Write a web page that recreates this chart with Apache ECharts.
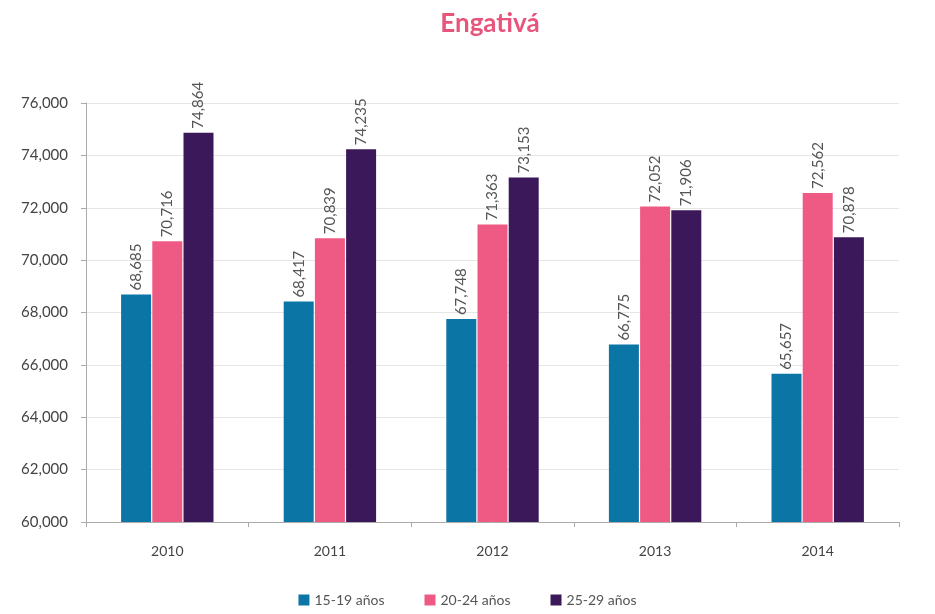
<!DOCTYPE html>
<html>
<head>
<meta charset="utf-8">
<script src="https://cdn.jsdelivr.net/npm/echarts@6/dist/echarts.min.js"></script>
<style>
  html, body { margin: 0; padding: 0; background: #fff; }
  #chart { width: 935px; height: 614px; }
</style>
</head>
<body>
<div id="chart"></div>
<script>
const years = ["2010", "2011", "2012", "2013", "2014"]
const age15_19 = [68685, 68417, 67748, 66775, 65657]
const age20_24 = [70716, 70839, 71363, 72052, 72562]
const age25_29 = [74864, 74235, 73153, 71906, 70878]

const chart = echarts.init(document.getElementById("chart"))

const fmt = p => p.value.toLocaleString("en-US")

const barLabel = {
  show: true,
  position: "top",
  rotate: 90,
  align: "left",
  verticalAlign: "middle",
  distance: 4,
  color: "#555",
  fontSize: 15,
  fontFamily: "Lato",
  formatter: fmt,
}

const option = {
  title: {
    text: "Engativá",
    left: 485,
    top: 6,
    textAlign: "center",
    textStyle: { color: "#e8557c", fontSize: 26, fontWeight: "bold", fontFamily: "Lato" },
  },
  textStyle: { fontFamily: "Lato" },
  legend: {
    bottom: 2,
    left: "center",
    itemWidth: 11,
    itemHeight: 11,
    itemGap: 40,
    icon: "rect",
    textStyle: { color: "#555", fontSize: 14 },
  },
  grid: { left: 86, right: 36, top: 103, bottom: 92 },
  xAxis: {
    type: "category",
    data: years,
    axisLine: { lineStyle: { color: "#aaa" } },
    axisTick: { show: true, alignWithLabel: false, length: 5, lineStyle: { color: "#aaa" } },
    axisLabel: { color: "#444", fontSize: 14, margin: 22 },
  },
  yAxis: {
    type: "value",
    min: 60000,
    max: 76000,
    interval: 2000,
    axisLine: { show: true, lineStyle: { color: "#aaa" } },
    axisTick: { show: true, length: 5, lineStyle: { color: "#aaa" } },
    axisLabel: {
      color: "#444",
      fontSize: 15,
      margin: 18,
      formatter: v => v.toLocaleString("en-US"),
    },
    splitLine: { lineStyle: { color: "#e6e6e6" } },
  },
  series: [
    {
      name: "15-19 años",
      type: "bar",
      data: age15_19,
      barWidth: 30,
      barGap: "4%",
      itemStyle: { color: "#0b76a6" },
      label: barLabel,
    },
    {
      name: "20-24 años",
      type: "bar",
      data: age20_24,
      barWidth: 30,
      barGap: "4%",
      itemStyle: { color: "#ef5a85" },
      label: barLabel,
    },
    {
      name: "25-29 años",
      type: "bar",
      data: age25_29,
      barWidth: 30,
      barGap: "4%",
      itemStyle: { color: "#3a1859" },
      label: barLabel,
    },
  ],
}

chart.setOption(option)
</script>
</body>
</html>
